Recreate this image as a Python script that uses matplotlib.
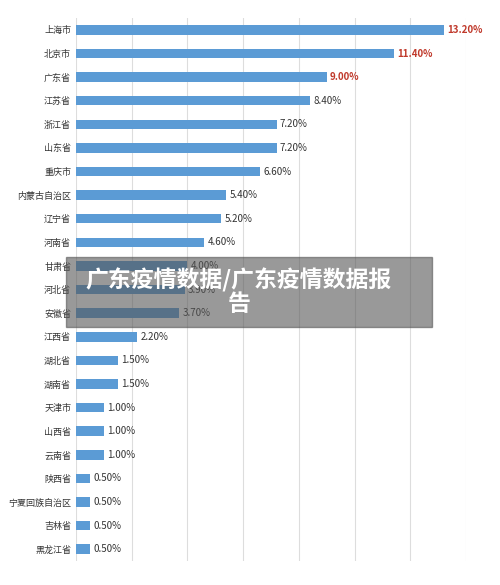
import matplotlib.pyplot as plt
from matplotlib.patches import Rectangle

plt.rcParams['font.family'] = ['Noto Sans CJK SC', 'DejaVu Sans']

regions = ['上海市', '北京市', '广东省', '江苏省', '浙江省', '山东省', '重庆市', '内蒙古自治区',
           '辽宁省', '河南省', '甘肃省', '河北省', '安徽省', '江西省', '湖北省', '湖南省',
           '天津市', '山西省', '云南省', '陕西省', '宁夏回族自治区', '吉林省', '黑龙江省']
shares = [13.2, 11.4, 9.0, 8.4, 7.2, 7.2, 6.6, 5.4, 5.2, 4.6, 4.0, 3.9, 3.7, 2.2,
          1.5, 1.5, 1.0, 1.0, 1.0, 0.5, 0.5, 0.5, 0.5]
red_labels = ['上海市', '北京市', '广东省']

fig = plt.figure(figsize=(5.0, 5.85), dpi=100)
ax = fig.add_axes([0.152, 0.041, 0.78, 0.928])
y = list(range(len(regions)))
ax.barh(y, shares, height=0.4, color='#5b9bd5')
for yi, name, v in zip(y, regions, shares):
    c = '#c0392b' if name in red_labels else '#333333'
    fw = 'bold' if name in red_labels else 'normal'
    ax.text(v + 0.12, yi, f'{v:.2f}%', va='center', ha='left', fontsize=7, color=c, fontweight=fw)
ax.set_yticks(y)
ax.set_yticklabels(regions, fontsize=6.5, color='#333333')
ax.set_ylim(len(regions) - 0.5, -0.5)
ax.set_xlim(0, 13.8)
ax.set_xticks(range(0, 15, 2))
ax.set_xticklabels([])
ax.tick_params(length=0)
ax.grid(axis='x', color='#dddddd', linewidth=0.8)
ax.set_axisbelow(True)
for s in ax.spines.values():
    s.set_visible(False)

fig.patches.append(Rectangle((66 / 500, 1 - 327 / 585), 366 / 500, 70 / 585,
                             transform=fig.transFigure, color='#555555', alpha=0.6, zorder=5))
fig.text(0.478, 1 - 292 / 585, '广东疫情数据/广东疫情数据报\n告', ha='center', va='center',
         color='white', fontsize=16.5, fontweight='bold', linespacing=1.05, zorder=6)

fig.savefig('out.png')
